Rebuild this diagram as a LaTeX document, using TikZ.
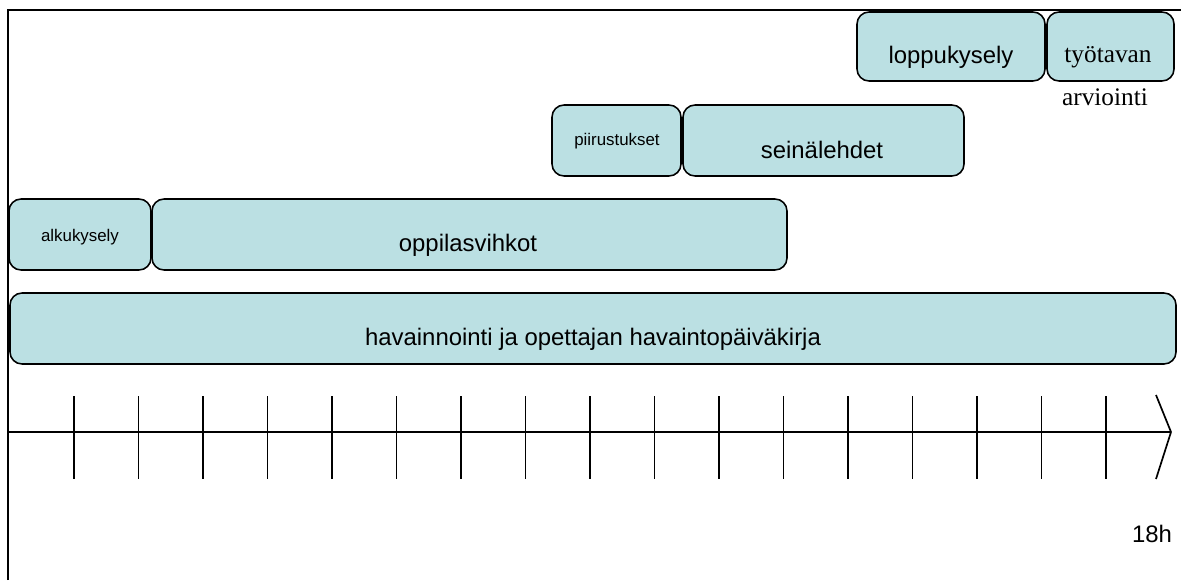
\documentclass[tikz,border=0pt]{standalone}
\usepackage{fontspec}
\setmainfont{Liberation Serif}
\setsansfont{Liberation Sans}
\usepackage{tikz}
\definecolor{boxfill}{RGB}{187,224,227}
\tikzset{
	phase/.style={draw=black, fill=boxfill, line width=1.1pt, rounded corners=0.3cm},
	bigtext/.style={font=\sffamily\fontsize{17}{20}\selectfont, anchor=base, inner sep=0pt},
	smalltext/.style={font=\sffamily\fontsize{12}{14}\selectfont, anchor=base, inner sep=0pt},
	seriftext/.style={font=\rmfamily\fontsize{18}{21}\selectfont, anchor=base, inner sep=0pt},
	axisline/.style={line width=1.2pt}
}

\begin{document}
\begin{tikzpicture}[x=0.025cm, y=-0.025cm]
		%%%%% START %%%%%
		\useasboundingbox (0, 0) rectangle (1181, 580);
		
		% frame
		\draw[line width=2pt] (8, 580) -- (8, 10) -- (1181, 10);
		
		% phases
		\draw[phase] (10, 293) rectangle (1176, 364);
		\node[bigtext] (havainnointi) at (593, 345) {havainnointi ja opettajan havaintopäiväkirja};
		
		\draw[phase] (9, 199) rectangle (151, 270);
		\node[smalltext] (alkukysely) at (80, 241) {alkukysely};
		\draw[phase] (152, 199) rectangle (787, 270);
		\node[bigtext] (vihkot) at (468, 251) {oppilasvihkot};
		
		\draw[phase] (552, 105) rectangle (681, 176);
		\node[smalltext] (piirustukset) at (617, 145) {piirustukset};
		\draw[phase] (683, 105) rectangle (964, 176);
		\node[bigtext] (seinalehdet) at (822, 158) {seinälehdet};
		
		\draw[phase] (857, 12) rectangle (1045, 81);
		\node[bigtext] (loppukysely) at (951, 63) {loppukysely};
		\draw[phase] (1047, 12) rectangle (1174, 81);
		\node[seriftext] (tyotavan) at (1108, 62) {työtavan};
		\node[seriftext] (arviointi) at (1105, 105) {arviointi};
		
		% time axis
		\coordinate (start) at (8, 432);
		\coordinate (tip) at (1171, 432);
		\draw[axisline] (start) -- (tip);
		\draw[axisline] (1156, 395) -- (tip) -- (1156, 479);
		\foreach \i in {0,...,16}
			\draw[axisline] ({74+64.5*\i}, 396) -- ({74+64.5*\i}, 479);
		\node[bigtext] (end) at (1152, 542) {18h};
		
		%%%%% END %%%%%
\end{tikzpicture}
\end{document}
